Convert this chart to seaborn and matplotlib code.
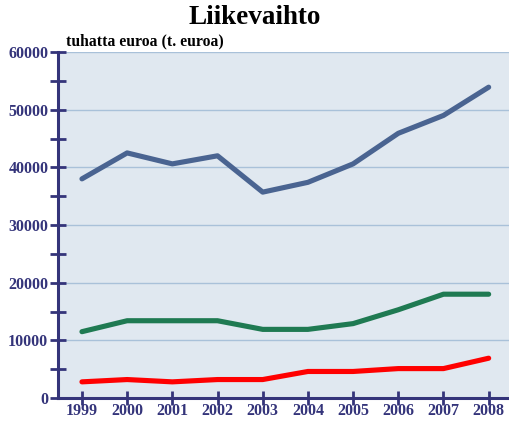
import numpy as np
import pandas as pd
import matplotlib.pyplot as plt
import seaborn as sns
from matplotlib.ticker import MultipleLocator

# -----------------------------
# Data
# -----------------------------
years = [1999, 2000, 2001, 2002, 2003, 2004, 2005, 2006, 2007, 2008]
series_top = [38000, 42500, 40600, 42000, 35700, 37400, 40600, 45900, 49000, 53900]
series_mid = [11500, 13400, 13400, 13400, 11900, 11900, 12900, 15300, 18000, 18000]
series_low = [2800, 3200, 2800, 3200, 3200, 4600, 4600, 5100, 5100, 6900]

series_names = ["A", "B", "C"]
colors = ["#4a6491", "#1f7a52", "#ff0000"]

df = pd.DataFrame({
    "year": years * 3,
    "value": series_top + series_mid + series_low,
    "series": np.repeat(series_names, len(years)),
})

# -----------------------------
# Plot
# -----------------------------
sns.set_style("white")
plt.rcParams["font.family"] = ["Liberation Serif", "DejaVu Serif"]

axis_col = "#34347a"

fig = plt.figure(figsize=(5.09, 4.21), dpi=100)
ax = fig.add_axes([58 / 509, 23 / 421, 451 / 509, 346 / 421])
ax.set_facecolor("#e0e8f0")

sns.lineplot(data=df, x="year", y="value", hue="series",
             palette=colors, linewidth=3.7, legend=False, ax=ax)

ax.set_xlim(1998.47, 2008.45)
ax.set_ylim(0, 60000)
ax.set_xticks(years)
ax.yaxis.set_major_locator(MultipleLocator(10000))
ax.yaxis.set_minor_locator(MultipleLocator(5000))
ax.grid(axis="y", which="major", color="#a9c1d9", linewidth=1)
ax.set_axisbelow(True)

for side in ["top", "right"]:
    ax.spines[side].set_visible(False)
for side in ["left", "bottom"]:
    ax.spines[side].set_color(axis_col)
    ax.spines[side].set_linewidth(2.2)
    ax.spines[side].set_zorder(5)

# seaborn "white" style switches ticks off, turn them back on
ax.tick_params(axis="both", which="both", left=True, bottom=True,
               direction="inout", color=axis_col, width=2, length=12,
               labelcolor=axis_col, labelsize=11.5, pad=1)
ax.tick_params(axis="x", which="major", length=10, pad=-1.5)
ax.tick_params(axis="x", which="minor", bottom=False)
for lbl in ax.get_xticklabels() + ax.get_yticklabels():
    lbl.set_fontweight("bold")

ax.set_xlabel("")
ax.set_ylabel("")

fig.text(0.5, 1 - 18 / 421, "Liikevaihto", ha="center", va="center",
         fontsize=19.5, fontweight="bold", color="black")
fig.text(66 / 509, 1 - 41 / 421, "tuhatta euroa (t. euroa)", ha="left", va="center",
         fontsize=11.3, fontweight="bold", color="black")

fig.savefig("out.png", dpi=100)
